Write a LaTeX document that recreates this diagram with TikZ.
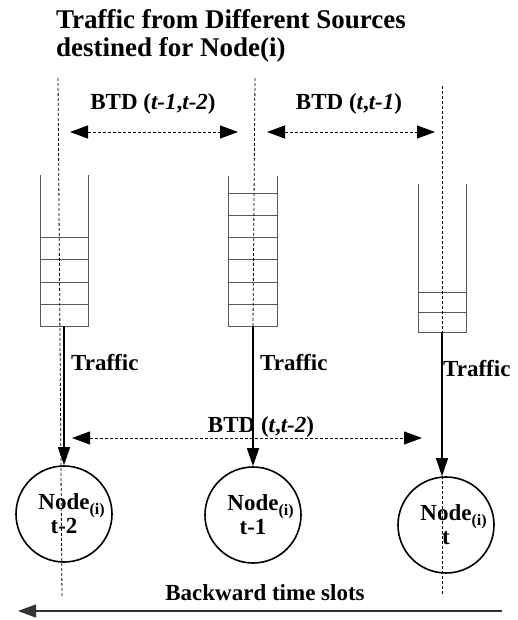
\documentclass[tikz,border=0pt]{standalone}
\usepackage{fontspec}
\setmainfont{Liberation Serif}
\usetikzlibrary{arrows.meta}

\tikzset{
  guide/.style={dash pattern=on 3pt off 2pt, line width=0.8pt},
  queue/.style={draw=black!65, line width=0.9pt},
  btd/.style={dash pattern=on 3pt off 2pt, line width=0.9pt,
    {Triangle[length=18pt,width=13pt]}-{Triangle[length=18pt,width=13pt]}},
  flow/.style={line width=1.1pt, -{Triangle[length=18pt,width=12pt]}},
  slot/.style={circle, draw, line width=1.6pt, minimum size=96pt, inner sep=0pt,
    align=center, font=\fontsize{23}{24}\selectfont\bfseries},
  lbl/.style={inner sep=0pt, font=\fontsize{23}{26}\selectfont\bfseries}
}
\newcommand{\nodei}{Node\rlap{\raisebox{-5pt}{\fontsize{16}{16}\selectfont (i)}}}

\begin{document}
\begin{tikzpicture}[x=1pt,y=-1pt]
  \useasboundingbox (0,0) rectangle (518,620);

  % title
  \node[inner sep=0pt, anchor=north west, align=left,
        font=\fontsize{27}{28}\selectfont\bfseries] (title) at (56,9)
    {Traffic from Different Sources\\destined for Node(i)};

  % queues
  \draw[queue] (40,175) -- (40,326) -- (88,326) -- (88,175);
  \foreach \y in {237,259,282,304} \draw[queue] (40,\y) -- (88,\y);
  \draw[queue] (228,176) -- (228,326) -- (277,326) -- (277,176);
  \foreach \y in {193,215,237,259,282,304} \draw[queue] (228,\y) -- (277,\y);
  \draw[queue] (418,184) -- (418,332) -- (466,332) -- (466,184);
  \foreach \y in {292,312} \draw[queue] (418,\y) -- (466,\y);
  \coordinate (q1) at (64,326);
  \coordinate (q2) at (253,326);
  \coordinate (q3) at (442,332);

  % nodes
  \node[slot] (n1) at (64,514) {\nodei\\t-2};
  \node[slot] (n2) at (253,515) {\nodei\\t-1};
  \node[slot] (n3) at (446,525) {\nodei\\t};

  % time guides
  \draw[guide] (58,78) -- (62,598);
  \draw[guide] (255,78) -- (q2);
  \draw[guide] (442,86) -- (442,596);

  % traffic into nodes
  \draw[flow] (q1) -- (n1.north);
  \draw[flow] (q2) -- (n2.north);
  \draw[flow] (q3) -- (q3 |- n3.north);
  \node[lbl, anchor=base west] (tr1) at (71,370) {Traffic};
  \node[lbl, anchor=base west] (tr2) at (260,370) {Traffic};
  \node[lbl, anchor=base west] (tr3) at (443,376) {Traffic};

  % BTD spans
  \coordinate (b1a) at (70,132);  \coordinate (b1b) at (238,132);
  \coordinate (b2a) at (267,132); \coordinate (b2b) at (435,132);
  \coordinate (b3a) at (72,438);  \coordinate (b3b) at (422,438);
  \draw[btd] (b1a) -- (b1b);
  \draw[btd] (b2a) -- (b2b);
  \draw[btd] (b3a) -- (b3b);
  \node[lbl, anchor=base] (btd1) at (153,110) {BTD (\textit{t-1},\textit{t-2})};
  \node[lbl, anchor=base] (btd2) at (349,110) {BTD (\textit{t},\textit{t-1})};
  \node[lbl, anchor=base] (btd3) at (261,432) {BTD (\textit{t},\textit{t-2})};

  % backward time axis
  \coordinate (ax1) at (502,611);
  \coordinate (ax0) at (18,611);
  \draw[black!80, line width=1.3pt, -{Triangle[length=18pt,width=13pt]}] (ax1) -- (ax0);
  \node[lbl, anchor=base] (back) at (265,600) {Backward time slots};
\end{tikzpicture}
\end{document}
